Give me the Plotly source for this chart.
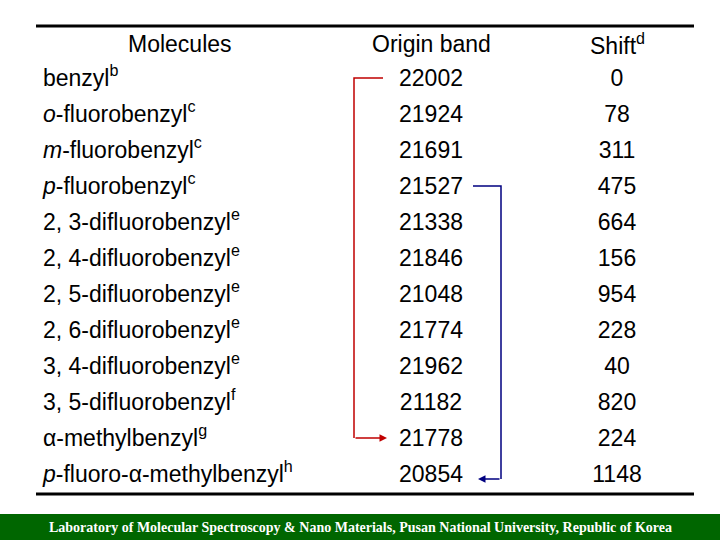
import plotly.graph_objects as go

molecules = [
    "benzyl<sup>b</sup>", "<i>o</i>-fluorobenzyl<sup>c</sup>", "<i>m</i>-fluorobenzyl<sup>c</sup>",
    "<i>p</i>-fluorobenzyl<sup>c</sup>", "2, 3-difluorobenzyl<sup>e</sup>", "2, 4-difluorobenzyl<sup>e</sup>",
    "2, 5-difluorobenzyl<sup>e</sup>", "2, 6-difluorobenzyl<sup>e</sup>", "3, 4-difluorobenzyl<sup>e</sup>",
    "3, 5-difluorobenzyl<sup>f</sup>", "α-methylbenzyl<sup>g</sup>", "<i>p</i>-fluoro-α-methylbenzyl<sup>h</sup>",
]
origin_band = [22002, 21924, 21691, 21527, 21338, 21846, 21048, 21774, 21962, 21182, 21778, 20854]
shift = [0, 78, 311, 475, 664, 156, 954, 228, 40, 820, 224, 1148]

FONT = "Liberation Sans, Arial, sans-serif"
FS = 23
y0, dy = 80, 36
ys = [y0 + i * dy for i in range(len(molecules))]

fig = go.Figure()
fig.add_trace(go.Scatter(x=[43] * len(ys), y=ys, mode="text", text=molecules,
                         textposition="middle right", textfont=dict(size=FS, color="black", family=FONT),
                         hoverinfo="skip"))
fig.add_trace(go.Scatter(x=[431] * len(ys), y=ys, mode="text", text=[str(v) for v in origin_band],
                         textposition="middle center", textfont=dict(size=FS, color="black", family=FONT),
                         hoverinfo="skip"))
fig.add_trace(go.Scatter(x=[617] * len(ys), y=ys, mode="text", text=[str(v) for v in shift],
                         textposition="middle center", textfont=dict(size=FS, color="black", family=FONT),
                         hoverinfo="skip"))

ann = [
    dict(x=180, y=44, text="Molecules"), dict(x=431, y=44, text="Origin band"),
    dict(x=617, y=44, text="Shift<sup>d</sup>"),
]
annotations = [dict(a, xref="x", yref="y", showarrow=False,
                    font=dict(size=FS, color="black", family=FONT)) for a in ann]

red, blue = "#C00000", "#000080"
iy_red_end = 10
iy_blue_start, iy_blue_end = 3, 11
shapes = [
    dict(type="line", x0=36, x1=694, y0=26, y1=26, line=dict(color="black", width=3)),
    dict(type="line", x0=36, x1=694, y0=494, y1=494, line=dict(color="black", width=3)),
    dict(type="rect", x0=0, x1=720, y0=514, y1=540, fillcolor="#006600", line=dict(width=0)),
    dict(type="path", path=f"M 383 {ys[0]-2} L 354 {ys[0]-2} L 354 {ys[iy_red_end]-2}",
         line=dict(color=red, width=1.5)),
    dict(type="path", path=f"M 473 {ys[iy_blue_start]-2} L 501 {ys[iy_blue_start]-2} L 501 {ys[iy_blue_end]+3}",
         line=dict(color=blue, width=1.5)),
]
annotations += [
    dict(x=387, y=ys[iy_red_end] - 2, ax=354, ay=ys[iy_red_end] - 2, xref="x", yref="y", axref="x", ayref="y",
         showarrow=True, arrowhead=2, arrowsize=1, arrowwidth=1.5, arrowcolor=red, text=""),
    dict(x=478, y=ys[iy_blue_end] + 3, ax=501, ay=ys[iy_blue_end] + 3, xref="x", yref="y", axref="x", ayref="y",
         showarrow=True, arrowhead=2, arrowsize=1, arrowwidth=1.5, arrowcolor=blue, text=""),
    dict(x=360, y=527, xref="x", yref="y", showarrow=False,
         text="<b>Laboratory of Molecular Spectroscopy &amp; Nano Materials, Pusan National University, Republic of Korea</b>",
         font=dict(size=14, color="white", family="Liberation Serif, Times New Roman, serif")),
]

fig.update_layout(
    width=720, height=540, margin=dict(l=0, r=0, t=0, b=0),
    paper_bgcolor="white", plot_bgcolor="white", showlegend=False,
    xaxis=dict(range=[0, 720], visible=False, fixedrange=True),
    yaxis=dict(range=[540, 0], visible=False, fixedrange=True),
    shapes=shapes, annotations=annotations,
)
fig.write_html("out.html", config=dict(displayModeBar=False),
               post_script="document.body.style.margin='0';document.body.style.overflow='hidden';")
